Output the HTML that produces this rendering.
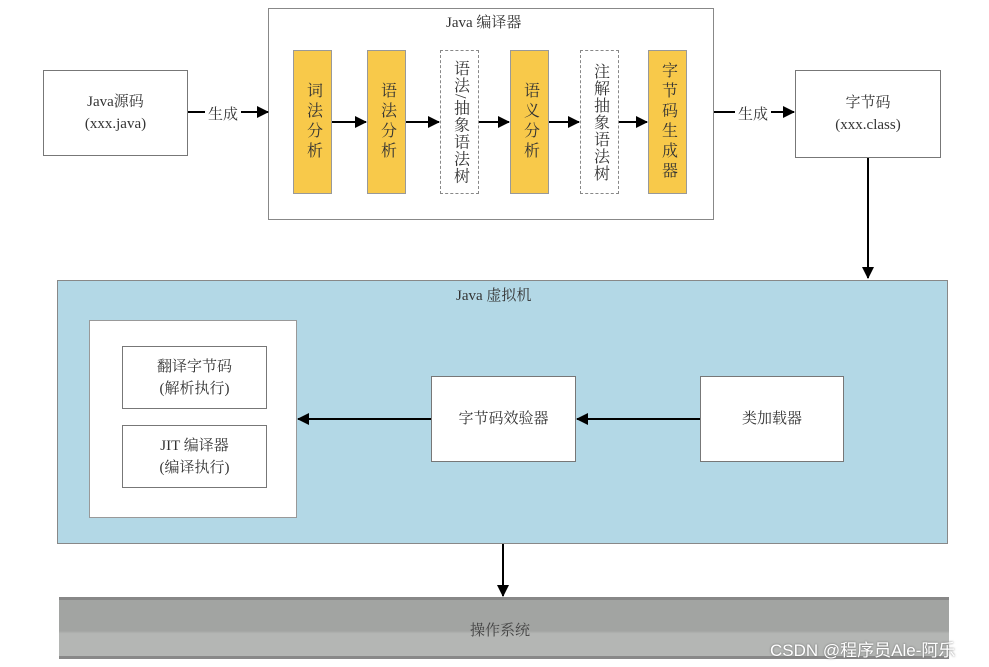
<!DOCTYPE html>
<html><head><meta charset="utf-8"><style>
body{margin:0;width:989px;height:667px;background:#fff;position:relative;overflow:hidden;font-family:"Liberation Serif","Noto Serif CJK SC",serif;color:#333}
.b{position:absolute;box-sizing:border-box;border:1.5px solid #777;background:#fff;display:flex;align-items:center;justify-content:center;text-align:center;font-size:15px;line-height:22px}
.y{background:#f8c94a;border:1.5px solid #999;writing-mode:vertical-rl;font-size:16px;letter-spacing:4px}
.d{border:1.5px dashed #888;writing-mode:vertical-rl;font-size:16px;line-height:16px;letter-spacing:1px}
.t{position:absolute;font-size:15px}
svg{position:absolute;left:0;top:0}
</style></head><body>
<div class="b" style="left:43px;top:70px;width:145px;height:86px">Java源码<br>(xxx.java)</div>
<div class="b" style="left:268px;top:8px;width:446px;height:212px;border-color:#888"></div>
<div class="t" style="left:446px;top:11px">Java 编译器</div>
<div class="b y" style="left:293px;top:50px;width:39px;height:144px">词法分析</div>
<div class="b y" style="left:367px;top:50px;width:39px;height:144px">语法分析</div>
<div class="b d" style="left:440px;top:50px;width:39px;height:144px">语法/抽象语法树</div>
<div class="b y" style="left:510px;top:50px;width:39px;height:144px">语义分析</div>
<div class="b d" style="left:580px;top:50px;width:39px;height:144px">注解抽象语法树</div>
<div class="b y" style="left:648px;top:50px;width:39px;height:144px">字节码生成器</div>
<div class="b" style="left:795px;top:70px;width:146px;height:88px">字节码<br>(xxx.class)</div>
<div class="b" style="left:57px;top:280px;width:891px;height:264px;background:#b3d8e6;border-color:#888"></div>
<div class="t" style="left:456px;top:284px">Java 虚拟机</div>
<div class="b" style="left:89px;top:320px;width:208px;height:198px;border-color:#999"></div>
<div class="b" style="left:122px;top:346px;width:145px;height:63px">翻译字节码<br>(解析执行)</div>
<div class="b" style="left:122px;top:425px;width:145px;height:63px">JIT 编译器<br>(编译执行)</div>
<div class="b" style="left:431px;top:376px;width:145px;height:86px">字节码效验器</div>
<div class="b" style="left:700px;top:376px;width:144px;height:86px">类加载器</div>
<div style="position:absolute;left:59px;top:597px;width:890px;height:62px;background:linear-gradient(#a2a4a2 0,#a2a4a2 55%,#b4b6b4 60%,#b4b6b4);border-top:3px solid #888;border-bottom:3px solid #888;box-sizing:border-box"></div>
<div class="t" style="left:470px;top:619px;color:#444">操作系统</div>
<div class="t" style="left:770px;top:636px;font-family:'Liberation Sans','Noto Sans CJK SC',sans-serif;font-size:17px;color:#fff;text-shadow:0 0 2px #666">CSDN @程序员Ale-阿乐</div>
<svg width="989" height="667">
<defs><marker id="a" markerWidth="12" markerHeight="12" refX="11" refY="6" orient="auto" markerUnits="userSpaceOnUse"><path d="M0,0L12,6L0,12z" fill="#000"/></marker></defs>
<g stroke="#000" stroke-width="2" marker-end="url(#a)">
<line x1="188" y1="112" x2="268" y2="112"/>
<line x1="332" y1="122" x2="366" y2="122"/>
<line x1="406" y1="122" x2="439" y2="122"/>
<line x1="479" y1="122" x2="509" y2="122"/>
<line x1="549" y1="122" x2="579" y2="122"/>
<line x1="619" y1="122" x2="647" y2="122"/>
<line x1="714" y1="112" x2="794" y2="112"/>
<line x1="868" y1="158" x2="868" y2="278"/>
<line x1="700" y1="419" x2="577" y2="419"/>
<line x1="431" y1="419" x2="298" y2="419"/>
<line x1="503" y1="544" x2="503" y2="596"/>
</g>
<rect x="205" y="103" width="36" height="18" fill="#fff"/>
<rect x="735" y="103" width="36" height="18" fill="#fff"/>
</svg>
<div class="t" style="left:208px;top:103px">生成</div>
<div class="t" style="left:738px;top:103px">生成</div>
</body></html>
